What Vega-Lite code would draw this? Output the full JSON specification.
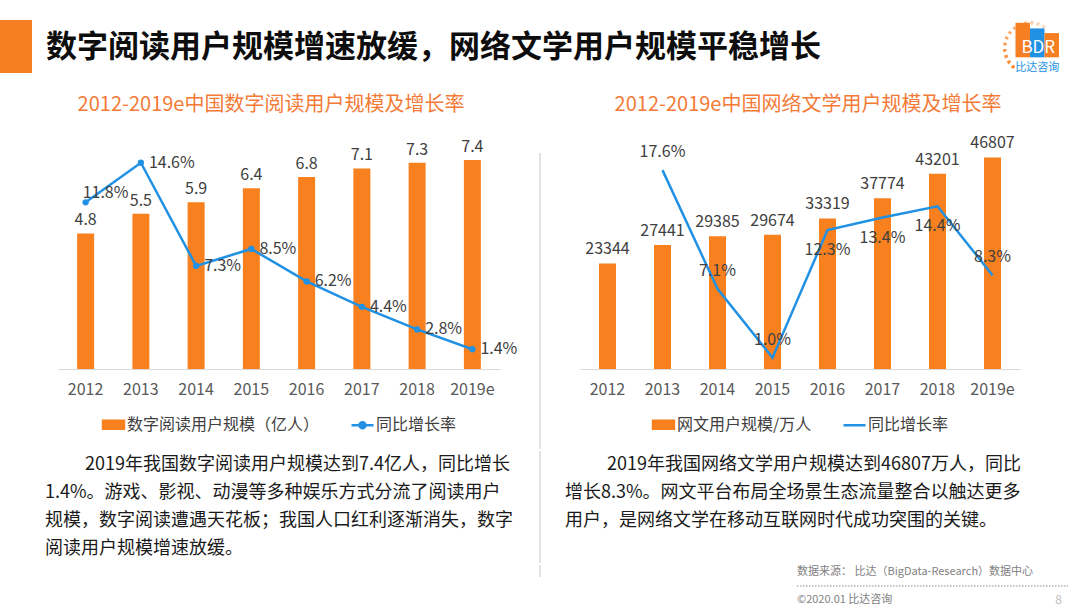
{
  "$schema": "https://vega.github.io/schema/vega-lite/v6.json",
  "background": "white",
  "padding": {"left": 0, "top": 5, "right": 0, "bottom": 0},
  "spacing": 0,
  "config": {
    "view": {"stroke": null},
    "font": "Noto Sans CJK SC",
    "axis": {"labelFont": "Noto Sans CJK SC", "labelFontSize": 16, "labelColor": "#595959", "ticks": false, "tickSize": 0, "labelPadding": 12, "domainColor": "#D9D9D9", "grid": false, "title": null, "labelAngle": 0},
    "legend": {"labelFont": "Noto Sans CJK SC", "labelLimit": 0, "layout": {"bottom": {"anchor": "middle"}}},
    "title": {"font": "Noto Sans CJK SC"},
    "text": {"font": "Noto Sans CJK SC"}
  },
  "vconcat": [
    {"width": 1, "height": 15, "data": {"values": []}, "mark": "point"},
    {
      "bounds": "flush",
      "spacing": 10,
      "hconcat": [
        {"width": 32, "height": 53, "view": {"fill": "#F57F22"}, "data": {"values": []}, "mark": "point"},
        {"width": 783, "height": 56, "data": {"values": [{"t": "数字阅读用户规模增速放缓，网络文学用户规模平稳增长"}]}, "mark": {"type": "text", "fontSize": 31, "fontWeight": "bold", "color": "#0D0D0D", "baseline": "middle"}, "encoding": {"text": {"field": "t"}}},
        {"width": 156, "height": 10, "data": {"values": []}, "mark": "point"},
        {
          "width": 58,
          "height": 56,
          "layer": [
            {
              "data": {"values": [{"dot": 1, "v": 1}, {"dot": 2, "v": 1}, {"dot": 3, "v": 1}, {"dot": 4, "v": 1}, {"dot": 5, "v": 1}, {"dot": 6, "v": 1}, {"dot": 7, "v": 1}, {"dot": 8, "v": 1}, {"dot": 9, "v": 1}, {"dot": 10, "v": 1}, {"dot": 11, "v": 1}, {"dot": 12, "v": 1}, {"dot": 13, "v": 1}]},
              "mark": {"type": "arc", "radius": 27, "radius2": 23.5, "padAngle": 0.1, "color": "#F57F22"},
              "encoding": {
                "theta": {"field": "v", "type": "quantitative", "stack": true, "scale": {"range": [3.75, 6.98]}},
                "opacity": {"field": "dot", "type": "quantitative", "scale": {"domain": [1, 13], "range": [1, 0.3]}, "legend": null}
              }
            },
            {
              "data": {"values": [{"k": "B", "h": 37}, {"k": "D", "h": 31}, {"k": "R", "h": 26}]},
              "mark": {"type": "bar"},
              "encoding": {
                "x": {"field": "k", "type": "nominal", "scale": {"domain": ["_", "B", "D", "R"], "paddingInner": 0, "paddingOuter": 0}, "axis": null},
                "y": {"field": "h", "type": "quantitative", "scale": {"domain": [-16, 40]}, "axis": null},
                "color": {"field": "k", "type": "nominal", "scale": {"domain": ["B", "D", "R"], "range": ["#F57F22", "#2191E3", "#F57F22"]}, "legend": null}
              }
            },
            {
              "data": {"values": [{"n": "BDR"}]},
              "mark": {"type": "text", "fontSize": 17, "color": "white", "baseline": "middle", "dx": 1},
              "encoding": {
                "x": {"datum": "D", "type": "nominal"},
                "y": {"datum": 9.5, "type": "quantitative"},
                "text": {"field": "n"}
              }
            },
            {
              "data": {"values": [{"n": "比达咨询"}]},
              "mark": {"type": "text", "fontSize": 11, "color": "#2191E3", "baseline": "middle"},
              "encoding": {
                "x": {"datum": "D", "type": "nominal"},
                "y": {"datum": -11, "type": "quantitative"},
                "text": {"field": "n"}
              }
            }
          ]
        }
      ]
    },
    {
      "bounds": "flush",
      "spacing": 10,
      "hconcat": [
        {"width": 48, "height": 1, "data": {"values": []}, "mark": "point"},
        {"width": 442, "height": 58, "data": {"values": [{"t": "2012-2019e中国数字阅读用户规模及增长率"}]}, "mark": {"type": "text", "fontSize": 20, "color": "#F37B37", "baseline": "middle", "dx": -8}, "encoding": {"text": {"field": "t"}}},
        {"width": 60, "height": 1, "data": {"values": []}, "mark": "point"},
        {"width": 440, "height": 58, "data": {"values": [{"t": "2012-2019e中国网络文学用户规模及增长率"}]}, "mark": {"type": "text", "fontSize": 20, "color": "#F37B37", "baseline": "middle", "dx": 8}, "encoding": {"text": {"field": "t"}}}
      ]
    },
    {
      "bounds": "flush",
      "spacing": 10,
      "resolve": {"scale": {"color": "independent"}, "legend": {"color": "independent"}},
      "hconcat": [
        {"width": 48, "height": 1, "data": {"values": []}, "mark": "point"},
        {
          "width": 442,
          "height": 235,
          "data": {"values": [
            {"year": "2012", "users": 4.8, "rate": 0.118},
            {"year": "2013", "users": 5.5, "rate": 0.146},
            {"year": "2014", "users": 5.9, "rate": 0.073},
            {"year": "2015", "users": 6.4, "rate": 0.085},
            {"year": "2016", "users": 6.8, "rate": 0.062},
            {"year": "2017", "users": 7.1, "rate": 0.044},
            {"year": "2018", "users": 7.3, "rate": 0.028},
            {"year": "2019e", "users": 7.4, "rate": 0.014}
          ]},
          "encoding": {"x": {"field": "year", "type": "ordinal", "scale": {"paddingInner": 0, "paddingOuter": 0}, "axis": {"labelAngle": 0}}},
          "layer": [
            {
              "mark": {"type": "bar", "width": 17},
              "encoding": {
                "y": {"field": "users", "type": "quantitative", "scale": {"domain": [0, 8.3186]}, "axis": null},
                "color": {
                  "datum": "数字阅读用户规模（亿人）",
                  "scale": {"domain": ["数字阅读用户规模（亿人）", "同比增长率"], "range": ["#F8801F", "#2191E3"]},
                  "legend": {"orient": "bottom", "direction": "horizontal", "title": null, "labelFontSize": 16, "labelColor": "#404040", "labelLimit": 0, "symbolSize": 484, "labelOffset": 1, "columnPadding": 26, "offset": 15,
                    "encode": {"symbols": {"update": {
                      "shape": {"signal": "datum.value === '同比增长率' ? 'M-1,0L1,0M-0.27,0A0.27,0.27,0,1,1,0.27,0A0.27,0.27,0,1,1,-0.27,0' : 'M-0.95,-0.36L0.95,-0.36L0.95,0.36L-0.95,0.36Z'"},
                      "fill": {"signal": "datum.value === '同比增长率' ? '#2191E3' : '#F8801F'"},
                      "stroke": {"signal": "datum.value === '同比增长率' ? '#2191E3' : 'transparent'"},
                      "strokeWidth": {"value": 2.5},
                      "opacity": {"value": 1}
                    }}}
                  }
                }
              }
            },
            {
              "mark": {"type": "text", "baseline": "alphabetic", "dy": -8, "fontSize": 16, "color": "#404040"},
              "encoding": {
                "y": {"field": "users", "type": "quantitative", "scale": {"domain": [0, 8.3186]}, "axis": null},
                "text": {"field": "users", "type": "quantitative", "format": ".1f"}
              }
            },
            {
              "mark": {"type": "line", "strokeWidth": 2.5, "point": {"filled": true, "size": 40}},
              "encoding": {
                "y": {"field": "rate", "type": "quantitative", "scale": {"domain": [0, 0.16637]}, "axis": null},
                "color": {
                  "datum": "同比增长率",
                  "scale": {"domain": ["数字阅读用户规模（亿人）", "同比增长率"], "range": ["#F8801F", "#2191E3"]},
                  "legend": {"orient": "bottom", "direction": "horizontal", "title": null, "labelFontSize": 16, "labelColor": "#404040", "labelLimit": 0, "symbolSize": 484, "labelOffset": 1, "columnPadding": 26, "offset": 15,
                    "encode": {"symbols": {"update": {
                      "shape": {"signal": "datum.value === '同比增长率' ? 'M-1,0L1,0M-0.27,0A0.27,0.27,0,1,1,0.27,0A0.27,0.27,0,1,1,-0.27,0' : 'M-0.95,-0.36L0.95,-0.36L0.95,0.36L-0.95,0.36Z'"},
                      "fill": {"signal": "datum.value === '同比增长率' ? '#2191E3' : '#F8801F'"},
                      "stroke": {"signal": "datum.value === '同比增长率' ? '#2191E3' : 'transparent'"},
                      "strokeWidth": {"value": 2.5},
                      "opacity": {"value": 1}
                    }}}
                  }
                }
              }
            },
            {
              "transform": [{"filter": "datum.year != '2012'"}],
              "mark": {"type": "text", "align": "left", "baseline": "middle", "dx": 8, "fontSize": 16, "color": "#404040"},
              "encoding": {
                "y": {"field": "rate", "type": "quantitative", "scale": {"domain": [0, 0.16637]}, "axis": null},
                "text": {"field": "rate", "type": "quantitative", "format": ".1%"}
              }
            },
            {
              "transform": [{"filter": "datum.year == '2012'"}],
              "mark": {"type": "text", "align": "left", "baseline": "middle", "dx": -3, "dy": -9, "fontSize": 16, "color": "#404040"},
              "encoding": {
                "y": {"field": "rate", "type": "quantitative", "scale": {"domain": [0, 0.16637]}, "axis": null},
                "text": {"field": "rate", "type": "quantitative", "format": ".1%"}
              }
            }
          ],
          "resolve": {"scale": {"y": "independent"}}
        },
        {
          "width": 60,
          "height": 315,
          "data": {"values": [{}]},
          "mark": {"type": "rule", "color": "#D9D9D9", "strokeWidth": 1.5},
          "encoding": {
            "x": {"datum": 0.5, "type": "quantitative", "scale": {"domain": [0, 1]}, "axis": null},
            "y": {"datum": 19, "type": "quantitative", "scale": {"domain": [0, 315], "reverse": true}, "axis": null},
            "y2": {"datum": 315}
          }
        },
        {
          "width": 440,
          "height": 235,
          "data": {"values": [
            {"year": "2012", "users": 23344, "rate": null},
            {"year": "2013", "users": 27441, "rate": 0.176},
            {"year": "2014", "users": 29385, "rate": 0.071},
            {"year": "2015", "users": 29674, "rate": 0.010},
            {"year": "2016", "users": 33319, "rate": 0.123},
            {"year": "2017", "users": 37774, "rate": 0.134},
            {"year": "2018", "users": 43201, "rate": 0.144},
            {"year": "2019e", "users": 46807, "rate": 0.083}
          ]},
          "encoding": {"x": {"field": "year", "type": "ordinal", "scale": {"paddingInner": 0, "paddingOuter": 0}, "axis": {"labelAngle": 0}}},
          "layer": [
            {
              "mark": {"type": "bar", "width": 17},
              "encoding": {
                "y": {"field": "users", "type": "quantitative", "scale": {"domain": [0, 51991]}, "axis": null},
                "color": {
                  "datum": "网文用户规模/万人",
                  "scale": {"domain": ["网文用户规模/万人", "同比增长率"], "range": ["#F8801F", "#2191E3"]},
                  "legend": {"orient": "bottom", "direction": "horizontal", "title": null, "labelFontSize": 16, "labelColor": "#404040", "labelLimit": 0, "symbolSize": 484, "labelOffset": 1, "columnPadding": 26, "offset": 15,
                    "encode": {"symbols": {"update": {
                      "shape": {"signal": "datum.value === '同比增长率' ? 'M-1,0L1,0' : 'M-0.95,-0.36L0.95,-0.36L0.95,0.36L-0.95,0.36Z'"},
                      "fill": {"signal": "datum.value === '同比增长率' ? 'transparent' : '#F8801F'"},
                      "stroke": {"signal": "datum.value === '同比增长率' ? '#2191E3' : 'transparent'"},
                      "strokeWidth": {"value": 2.5},
                      "opacity": {"value": 1}
                    }}}
                  }
                }
              }
            },
            {
              "mark": {"type": "text", "baseline": "alphabetic", "dy": -9, "fontSize": 16, "color": "#404040"},
              "encoding": {
                "y": {"field": "users", "type": "quantitative", "scale": {"domain": [0, 51991]}, "axis": null},
                "text": {"field": "users", "type": "quantitative", "format": "d"}
              }
            },
            {
              "transform": [{"filter": "datum.rate != null"}],
              "mark": {"type": "line", "strokeWidth": 2.5},
              "encoding": {
                "y": {"field": "rate", "type": "quantitative", "scale": {"domain": [0, 0.20796]}, "axis": null},
                "color": {
                  "datum": "同比增长率",
                  "scale": {"domain": ["网文用户规模/万人", "同比增长率"], "range": ["#F8801F", "#2191E3"]},
                  "legend": {"orient": "bottom", "direction": "horizontal", "title": null, "labelFontSize": 16, "labelColor": "#404040", "labelLimit": 0, "symbolSize": 484, "labelOffset": 1, "columnPadding": 26, "offset": 15,
                    "encode": {"symbols": {"update": {
                      "shape": {"signal": "datum.value === '同比增长率' ? 'M-1,0L1,0' : 'M-0.95,-0.36L0.95,-0.36L0.95,0.36L-0.95,0.36Z'"},
                      "fill": {"signal": "datum.value === '同比增长率' ? 'transparent' : '#F8801F'"},
                      "stroke": {"signal": "datum.value === '同比增长率' ? '#2191E3' : 'transparent'"},
                      "strokeWidth": {"value": 2.5},
                      "opacity": {"value": 1}
                    }}}
                  }
                }
              }
            },
            {
              "transform": [{"filter": "datum.rate != null && indexof(['2016','2017','2018'], datum.year) < 0"}],
              "mark": {"type": "text", "baseline": "middle", "dy": -18, "fontSize": 16, "color": "#404040"},
              "encoding": {
                "y": {"field": "rate", "type": "quantitative", "scale": {"domain": [0, 0.20796]}, "axis": null},
                "text": {"field": "rate", "type": "quantitative", "format": ".1%"}
              }
            },
            {
              "transform": [{"filter": "indexof(['2016','2017','2018'], datum.year) >= 0"}],
              "mark": {"type": "text", "baseline": "middle", "dy": 20, "fontSize": 16, "color": "#404040"},
              "encoding": {
                "y": {"field": "rate", "type": "quantitative", "scale": {"domain": [0, 0.20796]}, "axis": null},
                "text": {"field": "rate", "type": "quantitative", "format": ".1%"}
              }
            }
          ],
          "resolve": {"scale": {"y": "independent"}}
        }
      ]
    },
    {
      "bounds": "flush",
      "spacing": 10,
      "hconcat": [
        {"width": 35, "height": 1, "data": {"values": []}, "mark": "point"},
        {
          "width": 455,
          "height": 112,
          "data": {"values": [
            {"line": 1, "text": "2019年我国数字阅读用户规模达到7.4亿人，同比增长"},
            {"line": 2, "text": "1.4%。游戏、影视、动漫等多种娱乐方式分流了阅读用户"},
            {"line": 3, "text": "规模，数字阅读遭遇天花板；我国人口红利逐渐消失，数字"},
            {"line": 4, "text": "阅读用户规模增速放缓。"}
          ]},
          "encoding": {
            "x": {"datum": 0, "type": "quantitative", "scale": {"domain": [0, 1]}, "axis": null},
            "y": {"field": "line", "type": "ordinal", "scale": {"type": "point", "domain": [1, 2, 3, 4], "padding": 0.5}, "axis": null},
            "text": {"field": "text"}
          },
          "layer": [
            {"transform": [{"filter": "datum.line == 1"}], "mark": {"type": "text", "align": "left", "baseline": "middle", "fontSize": 18, "dx": 40, "color": "#1A1A1A"}},
            {"transform": [{"filter": "datum.line != 1"}], "mark": {"type": "text", "align": "left", "baseline": "middle", "fontSize": 18, "color": "#1A1A1A"}}
          ]
        },
        {
          "width": 60,
          "height": 112,
          "data": {"values": [{}]},
          "mark": {"type": "rule", "color": "#D9D9D9", "strokeWidth": 1.5},
          "encoding": {"x": {"datum": 0.5, "type": "quantitative", "scale": {"domain": [0, 1]}, "axis": null}}
        },
        {
          "width": 440,
          "height": 112,
          "data": {"values": [
            {"line": 1, "text": "2019年我国网络文学用户规模达到46807万人，同比"},
            {"line": 2, "text": "增长8.3%。网文平台布局全场景生态流量整合以触达更多"},
            {"line": 3, "text": "用户，是网络文学在移动互联网时代成功突围的关键。"}
          ]},
          "encoding": {
            "x": {"datum": 0, "type": "quantitative", "scale": {"domain": [0, 1]}, "axis": null},
            "y": {"field": "line", "type": "ordinal", "scale": {"type": "point", "domain": [1, 2, 3, 4], "padding": 0.5}, "axis": null},
            "text": {"field": "text"}
          },
          "layer": [
            {"transform": [{"filter": "datum.line == 1"}], "mark": {"type": "text", "align": "left", "baseline": "middle", "fontSize": 18, "dx": 27, "color": "#1A1A1A"}},
            {"transform": [{"filter": "datum.line != 1"}], "mark": {"type": "text", "align": "left", "baseline": "middle", "fontSize": 18, "dx": -15, "color": "#1A1A1A"}}
          ]
        }
      ]
    },
    {
      "bounds": "flush",
      "spacing": 10,
      "hconcat": [
        {"width": 500, "height": 1, "data": {"values": []}, "mark": "point"},
        {
          "width": 60,
          "height": 12,
          "data": {"values": [{}]},
          "mark": {"type": "rule", "color": "#D9D9D9", "strokeWidth": 1.5},
          "encoding": {"x": {"datum": 0.5, "type": "quantitative", "scale": {"domain": [0, 1]}, "axis": null}}
        },
        {"width": 207, "height": 1, "data": {"values": []}, "mark": "point"},
        {
          "width": 271,
          "height": 42,
          "layer": [
            {
              "data": {"values": [{"r": "a", "t": "数据来源： 比达（BigData-Research）数据中心"}, {"r": "c", "t": "©2020.01 比达咨询"}]},
              "mark": {"type": "text", "align": "left", "baseline": "middle", "fontSize": 11, "color": "#7F7F7F"},
              "encoding": {
                "x": {"datum": 0, "type": "quantitative", "scale": {"domain": [0, 1]}, "axis": null},
                "y": {"field": "r", "type": "ordinal", "scale": {"type": "point", "domain": ["a", "b", "c"], "padding": 0.5}, "axis": null},
                "text": {"field": "t"}
              }
            },
            {
              "data": {"values": [{"r": "c", "t": "8"}]},
              "mark": {"type": "text", "align": "right", "baseline": "middle", "fontSize": 12, "dx": -6, "color": "#BFBFBF"},
              "encoding": {
                "x": {"datum": 1, "type": "quantitative"},
                "y": {"field": "r", "type": "ordinal"},
                "text": {"field": "t"}
              }
            },
            {
              "data": {"values": [{"r": "b"}]},
              "mark": {"type": "rule", "color": "#8C8C8C", "strokeWidth": 1, "strokeDash": [1.5, 1.5]},
              "encoding": {
                "x": {"datum": 0, "type": "quantitative"},
                "x2": {"datum": 1},
                "y": {"field": "r", "type": "ordinal"}
              }
            }
          ]
        }
      ]
    }
  ]
}
